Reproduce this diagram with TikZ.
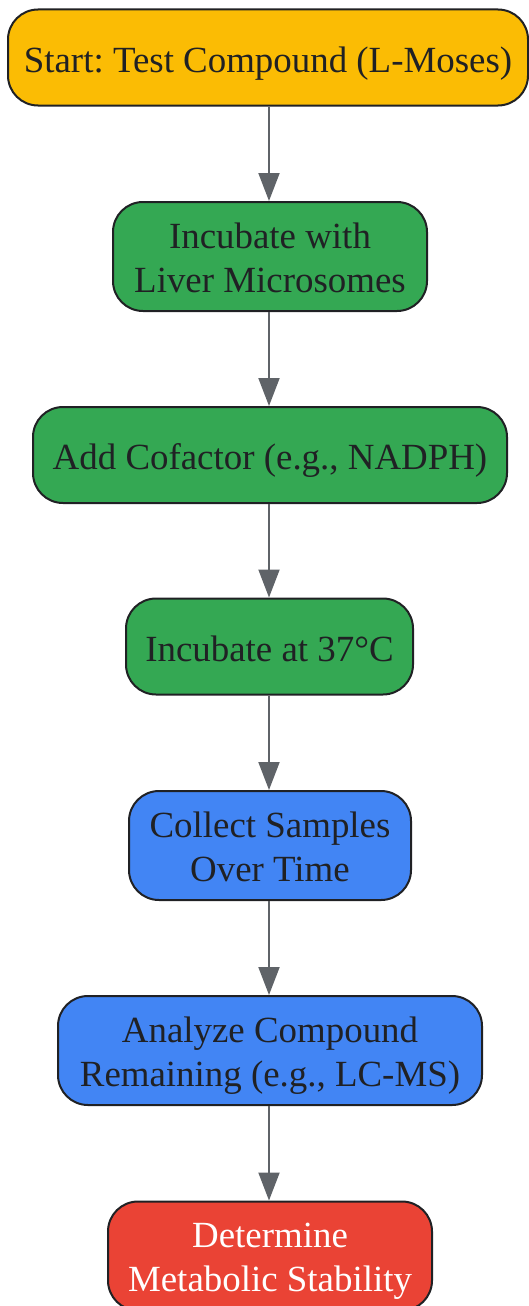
\documentclass[tikz,border=0pt]{standalone}
\usepackage{fontspec}
\setmainfont{Liberation Serif}
\usetikzlibrary{arrows.meta}
\definecolor{cyellow}{HTML}{FBBC04}
\definecolor{cgreen}{HTML}{34A853}
\definecolor{cblue}{HTML}{4285F4}
\definecolor{cred}{HTML}{EA4335}
\definecolor{cborder}{HTML}{202124}
\definecolor{carrow}{HTML}{5F6368}
\frenchspacing
\begin{document}
\begin{tikzpicture}[x=1pt,y=-1pt,
  box/.style={draw=cborder, line width=2pt, rounded corners=30pt, inner sep=0pt},
  lbl/.style={anchor=base, font=\fontsize{36.9}{44}\selectfont\frenchspacing,
    text=cborder, inner sep=0pt},
  one/.style={lbl, yshift=-14.5pt},
  top/.style={lbl, yshift=8.5pt},
  bot/.style={lbl, yshift=-35.5pt},
  conn/.style={draw=carrow, line width=2pt, -{Triangle[length=28pt,width=21pt]}}]
\useasboundingbox (0,0) rectangle (529,1306);
\node[box, fill=cyellow, minimum width=520pt, minimum height=96pt] (n1) at (268,57.5) {};
\node[box, fill=cgreen, minimum width=314pt, minimum height=109pt] (n2) at (270,256.5) {};
\node[box, fill=cgreen, minimum width=474pt, minimum height=96pt] (n3) at (270,455) {};
\node[box, fill=cgreen, minimum width=287pt, minimum height=96pt] (n4) at (269.5,646.5) {};
\node[box, fill=cblue, minimum width=282pt, minimum height=109pt] (n5) at (270,845.5) {};
\node[box, fill=cblue, minimum width=424pt, minimum height=109pt] (n6) at (270,1050.5) {};
\node[box, fill=cred, minimum width=324pt, minimum height=109pt] (n7) at (270,1256) {};
\node[one] (t1) at (n1.center) {Start: Test Compound (L-Moses)};
\node[top] (t2a) at (n2.center) {Incubate with};
\node[bot] (t2b) at (n2.center) {Liver Microsomes};
\node[one] (t3) at (n3.center) {Add Cofactor (e.g., NADPH)};
\node[one] (t4) at (n4.center) {Incubate at 37°C};
\node[top] (t5a) at (n5.center) {Collect Samples};
\node[bot] (t5b) at (n5.center) {Over Time};
\node[top] (t6a) at (n6.center) {Analyze Compound};
\node[bot] (t6b) at (n6.center) {Remaining (e.g., LC-MS)};
\node[top, text=white] (t7a) at (n7.center) {Determine};
\node[bot, text=white] (t7b) at (n7.center) {Metabolic Stability};
\draw[conn] (n1.south -| 269,0) -- (n2.north -| 269,0);
\draw[conn] (n2.south -| 269,0) -- (n3.north -| 269,0);
\draw[conn] (n3.south -| 269,0) -- (n4.north -| 269,0);
\draw[conn] (n4.south -| 269,0) -- (n5.north -| 269,0);
\draw[conn] (n5.south -| 269,0) -- (n6.north -| 269,0);
\draw[conn] (n6.south -| 269,0) -- (n7.north -| 269,0);
\end{tikzpicture}
\end{document}
